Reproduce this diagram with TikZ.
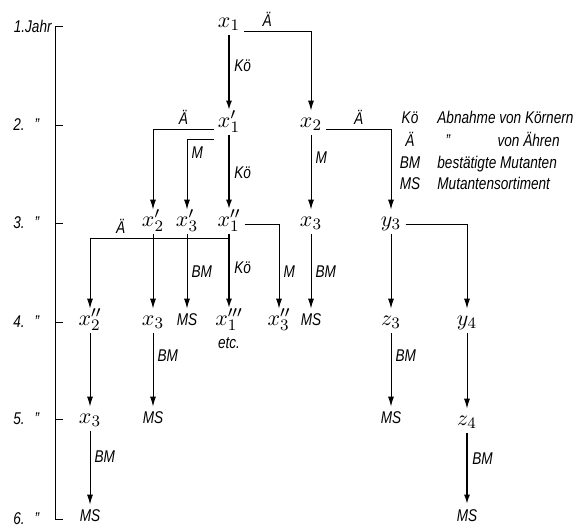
\documentclass[tikz,border=0pt]{standalone}
\usepackage{fontspec}
\usepackage{tikz}
\usetikzlibrary{arrows.meta,positioning,calc}
\newfontfamily\narrowfont{Liberation Sans}[FakeStretch=0.8]

\begin{document}
\begin{tikzpicture}[x=0.5pt,y=-0.5pt,>={Latex[length=5pt,width=3pt]},
  txt/.style={font=\narrowfont\itshape\fontsize{8.5}{10}\selectfont,inner sep=0pt},
  box/.style={inner sep=2pt,text height=6pt,text depth=2pt},
  var/.style={box,font=\fontsize{11}{13}\selectfont},
  ms/.style={txt,box},
  lbl/.style={txt,inner sep=2pt},
  ln/.style={line width=0.5pt},
  ko/.style={line width=1.3pt}]
\useasboundingbox (0,0) rectangle (574,527);
% years
\draw[ln] (55,26) -- (55,519);
\foreach \y in {26,125,223,322,419,519} \draw[ln] (55,\y) -- (63,\y);
\node[txt,anchor=east] (yr1) at (52,26) {1.Jahr};
\foreach \n/\y in {2/125,3/223,4/322,5/419,6/519}
  \node[txt,anchor=west] (yr\n) at (13,\y) {\n.\hspace{5pt}”};
% nodes
\node[var] (x1) at (229,23) {$x_1$};
\node[var] (x1p) at (229,123) {$x_1'$};
\node[var] (x2) at (311,123) {$x_2$};
\node[var] (x2p) at (153,222) {$x_2'$};
\node[var] (x3p) at (187,222) {$x_3'$};
\node[var] (x1pp) at (229,222) {$x_1''$};
\node[var] (x3a) at (311,222) {$x_3$};
\node[var] (y3) at (391,222) {$y_3$};
\node[var] (x2pp) at (90,321) {$x_2''$};
\node[var] (x3b) at (153,321) {$x_3$};
\node[ms] (msA) at (187,321) {MS};
\node[var] (x1ppp) at (229,321) {$x_1'''$};
\node[lbl,below=0pt of x1ppp] (etc) {etc.};
\node[var] (x3pp) at (279,321) {$x_3''$};
\node[ms] (msB) at (311,321) {MS};
\node[var] (z3) at (391,321) {$z_3$};
\node[var] (y4) at (467,321) {$y_4$};
\node[var] (x3c) at (90,419) {$x_3$};
\node[ms] (msC) at (153,419) {MS};
\node[ms] (msD) at (391,419) {MS};
\node[var] (z4) at (467,421) {$z_4$};
\node[ms] (msE) at (90,517) {MS};
\node[ms] (msF) at (467,517) {MS};
% 1. -> 2.
\draw[ko,->] (x1) -- node[lbl,right,pos=0.4] {Kö} (x1p);
\draw[ln,->] ([yshift=-4pt]x1.east) -| node[lbl,above,pos=0.17] {Ä} (x2.north);
% 2. -> 3.
\draw[ko,->] (x1p) -- node[lbl,right] {Kö} (x1pp);
\draw[ln,->] ([yshift=-3pt]x1p.west) -| node[lbl,above,pos=0.25] {Ä} (x2p.north);
\draw[ln,->] ([yshift=-8pt]x1p.west) -| node[lbl,right,pos=0.6] {M} (x3p.north);
\draw[ln,->] (x2) -- node[lbl,right,pos=0.3] {M} (x3a);
\draw[ln,->] ([yshift=-3pt]x2.east) -| node[lbl,above,pos=0.25] {Ä} (y3.north);
% 3. -> 4.
\draw[ln,->] ([yshift=-2pt]x1pp.south) -| node[lbl,above,pos=0.39] {Ä} (x2pp.north);
\draw[ko,->] (x1pp) -- node[lbl,right,pos=0.45] {Kö} (x1ppp);
\draw[ln,->] ([yshift=-1pt]x1pp.east) -| node[lbl,right,pos=0.78] {M} (x3pp.north);
\draw[ln,->] (x2p) -- (x3b);
\draw[ln,->] (x3p) -- node[lbl,right] {BM} (msA);
\draw[ln,->] (x3a) -- node[lbl,right] {BM} (msB);
\draw[ln,->] (y3) -- (z3);
\draw[ln,->] ([yshift=-1pt]y3.east) -| (y4.north);
% 4. -> 6.
\draw[ln,->] (x2pp) -- (x3c);
\draw[ln,->] (x3b) -- node[lbl,right,pos=0.3] {BM} (msC);
\draw[ln,->] (z3) -- node[lbl,right,pos=0.3] {BM} (msD);
\draw[ln,->] (y4) -- (z4);
\draw[ln,->] (x3c) -- node[lbl,right,pos=0.35] {BM} (msE);
\draw[ko,->] (z4) -- node[lbl,right,pos=0.35] {BM} (msF);
% legend
\node[txt,anchor=base] (kKo) at (410,123) {Kö};
\node[txt,anchor=base west] (tKo) at (437,123) {Abnahme von Körnern};
\node[txt,anchor=base] (kAe) at (410,146) {Ä};
\node[txt,anchor=base] (dAe) at (448,146) {”};
\node[txt,anchor=base east] (tAe) at (560,146) {von Ähren};
\node[txt,anchor=base] (kBM) at (410,168) {BM};
\node[txt,anchor=base west] (tBM) at (437,168) {bestätigte Mutanten};
\node[txt,anchor=base] (kMS) at (410,189) {MS};
\node[txt,anchor=base west] (tMS) at (437,189) {Mutantensortiment};
\end{tikzpicture}
\end{document}
